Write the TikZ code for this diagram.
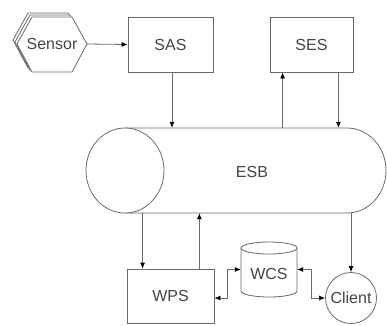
\documentclass[tikz,border=0pt]{standalone}
\usepackage{fontspec}
\setmainfont{Liberation Sans}
\usetikzlibrary{arrows.meta,calc}
\definecolor{ln}{HTML}{6A6A6A}
\definecolor{tx}{HTML}{444444}
\tikzset{
  box/.style={draw=ln, line width=0.8pt, fill=white, rectangle, text=tx, inner sep=0pt},
  lbl/.style={text=tx, inner sep=0pt},
  arr/.style={draw=ln, line width=0.8pt, -{Latex[length=6pt,width=5pt,color=black]}},
  arrb/.style={draw=ln, line width=0.8pt, {Latex[length=6pt,width=5pt,color=black]}-{Latex[length=6pt,width=5pt,color=black]}},
  shp/.style={draw=ln, line width=0.8pt, fill=white}
}
\begin{document}
\begin{tikzpicture}[x=1pt, y=-1pt, font=\fontsize{16}{18}\selectfont]
\useasboundingbox (0,0) rectangle (387,325);
% Sensor: stacked hexagons
\foreach \d in {4,2}{
  \draw[shp] (17-\d,44-\d) -- (32-\d,17-\d) -- (72-\d,17-\d) -- (87-\d,44-\d) -- (72-\d,72-\d) -- (32-\d,72-\d) -- cycle;
}
\draw[shp] (17,44) -- (32,17) -- (72,17) -- (87,44) -- (72,72) -- (32,72) -- cycle;
\node[lbl] (sensor) at (52,44) {Sensor};
\coordinate (sensorE) at (87,44);
% Boxes
\node[box, minimum width=85pt, minimum height=55pt] (sas) at (170.5,44.5) {SAS};
\node[box, minimum width=83pt, minimum height=55pt] (ses) at (311.5,44.5) {SES};
\node[box, minimum width=87pt, minimum height=54pt] (wps) at (170.5,296) {WPS};
% ESB cylinder
\draw[shp] (125,128) -- (347,128) arc (-90:90:39 and 42.5) -- (125,213);
\draw[shp] (125,170.5) ellipse (39 and 42.5);
\node[inner sep=0pt, minimum width=300pt, minimum height=85pt] (esb) at (236,170.5) {};
\node[lbl] (esbl) at (252,172) {ESB};
% WCS cylinder
\draw[shp] (241,248) -- (241,291) arc (180:0:28 and 6) -- (297,248);
\draw[shp] (269,248) ellipse (28 and 6);
\node[inner sep=0pt, minimum width=56pt, minimum height=55pt] (wcs) at (269,269.5) {};
\node[lbl] (wcsl) at (269,274) {WCS};
% Client
\node[box, circle, minimum size=51pt] (client) at (351,298) {Client};
% Anchor coordinates
\coordinate (sasS) at ($(sas.south)+(1.5,0)$);
\coordinate (sesA) at ($(ses.south west)+(13,0)$);
\coordinate (sesB) at ($(ses.south east)+(-15,0)$);
\coordinate (wpsA) at ($(wps.north west)+(16,0)$);
\coordinate (wpsB) at ($(wps.north east)+(-15,0)$);
\coordinate (wpsE) at ($(wps.east)+(0,2)$);
% Connectors
\draw[arr] (sensorE) -- (sas.west);
\draw[arr] (sasS) -- (sasS |- esb.north);
\draw[arr] (sesA |- esb.north) -- (sesA);
\draw[arr] (sesB) -- (sesB |- esb.north);
\draw[arr] (wpsA |- esb.south) -- (wpsA);
\draw[arr] (wpsB) -- (wpsB |- esb.south);
\draw[arr] (client.north |- esb.south) -- (client.north);
\draw[arrb] (wpsE) -- ++(13,0) |- (wcs.west);
\draw[arrb] (wcs.east) -- ++(14,0) |- (client.west);
\end{tikzpicture}
\end{document}
